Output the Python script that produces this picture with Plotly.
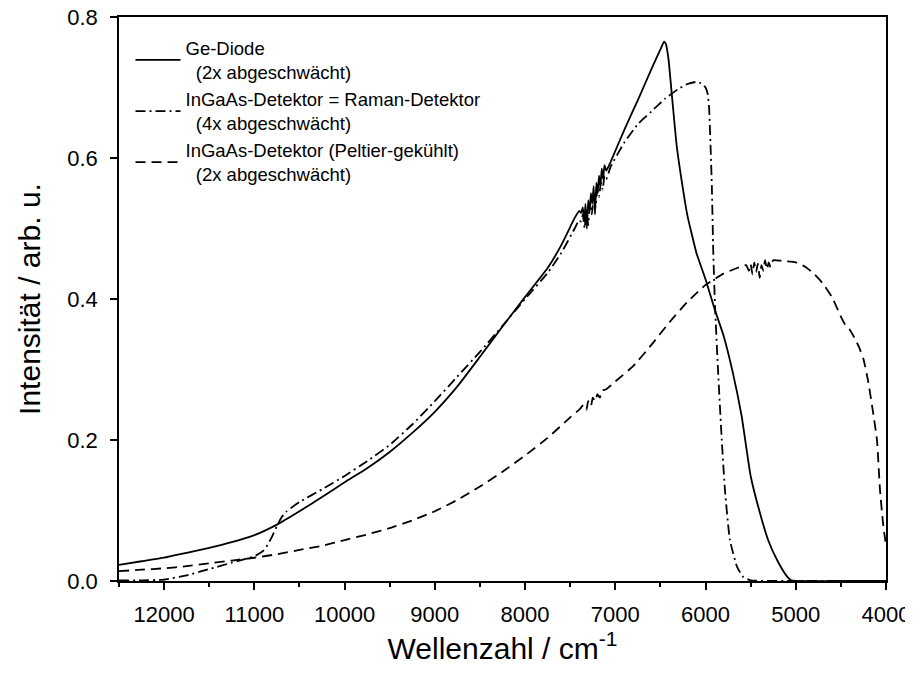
import plotly.graph_objects as go

# ---------------- data ----------------
ge_x = [12500, 12250, 12000, 11750, 11500, 11250, 11000, 10750, 10500, 10250,
        10000, 9750, 9500, 9250, 9000, 8750, 8500, 8250, 8000, 7750, 7600, 7450, 7400,
        7380, 7360, 7345, 7330, 7315, 7300, 7285, 7270, 7255, 7240, 7225, 7210,
        7195, 7180, 7165, 7150, 7135, 7120, 7100,
        7050, 6900, 6750, 6600, 6500, 6460, 6440, 6410, 6370, 6320, 6250, 6200,
        6100, 6000, 5900, 5800, 5700, 5600, 5500, 5400, 5300, 5200, 5100, 5050,
        5000, 4500, 4000]
ge_y = [0.023, 0.028, 0.033, 0.040, 0.047, 0.055, 0.065, 0.080, 0.099, 0.119,
        0.140, 0.160, 0.183, 0.210, 0.240, 0.276, 0.318, 0.361, 0.403, 0.444, 0.476, 0.515, 0.525,
        0.522, 0.530, 0.510, 0.535, 0.500, 0.540, 0.525, 0.550, 0.535, 0.560, 0.520, 0.565,
        0.550, 0.575, 0.560, 0.585, 0.570, 0.590, 0.582,
        0.595, 0.640, 0.682, 0.726, 0.754, 0.765, 0.762, 0.740, 0.685, 0.618, 0.556, 0.518,
        0.465, 0.428, 0.386, 0.348, 0.297, 0.234, 0.149, 0.098, 0.056, 0.028, 0.007, 0.001,
        0.0, 0.0, 0.0]

raman_x = [12500, 12250, 12000, 11750, 11500, 11250, 11000, 10900, 10850, 10800,
           10750, 10700, 10650, 10500, 10250, 10000, 9750, 9500, 9250, 9000, 8750,
           8500, 8250, 8000, 7750, 7600, 7450, 7400,
           7380, 7360, 7340, 7320, 7300, 7280, 7260, 7240, 7220, 7200, 7180, 7160,
           7140, 7120, 7100,
           7050, 6900, 6750, 6600, 6450, 6300, 6200, 6100, 6050, 6000, 5975, 5960,
           5945, 5930, 5915, 5895, 5860, 5820, 5785, 5730, 5650, 5585, 5500, 5000,
           4500, 4000]
raman_y = [0.001, 0.001, 0.002, 0.008, 0.017, 0.026, 0.035, 0.043, 0.052, 0.064,
           0.078, 0.090, 0.098, 0.112, 0.130, 0.149, 0.170, 0.193, 0.222, 0.255, 0.290,
           0.325, 0.362, 0.400, 0.437, 0.465, 0.500, 0.512,
           0.510, 0.520, 0.500, 0.525, 0.505, 0.535, 0.520, 0.545, 0.530, 0.555, 0.545, 0.565,
           0.555, 0.575, 0.570,
           0.588, 0.622, 0.648, 0.666, 0.684, 0.698, 0.705, 0.708, 0.706, 0.700, 0.690, 0.670,
           0.620, 0.560, 0.470, 0.390, 0.295, 0.200, 0.129, 0.058, 0.020, 0.006, 0.001, 0.0,
           0.0, 0.0]

peltier_x = [12500, 12250, 12000, 11750, 11500, 11250, 11000, 10750, 10500, 10250,
             10000, 9750, 9500, 9250, 9000, 8750, 8500, 8250, 8000, 7750, 7500, 7400,
             7350, 7320, 7300, 7270, 7250, 7220, 7200, 7170, 7150, 7100,
             7000, 6800, 6600, 6400, 6200, 6000, 5800, 5650,
             5550, 5520, 5500, 5480, 5460, 5440, 5420, 5400, 5380, 5360, 5340, 5320,
             5300, 5280, 5250,
             5150, 5000, 4900, 4800, 4700, 4600, 4500, 4450, 4400, 4350, 4300, 4250,
             4200, 4150, 4100, 4067, 4033, 4000]
peltier_y = [0.014, 0.016, 0.018, 0.021, 0.025, 0.029, 0.033, 0.038, 0.044, 0.050,
             0.058, 0.066, 0.075, 0.086, 0.099, 0.115, 0.134, 0.155, 0.178, 0.203, 0.232, 0.243,
             0.250, 0.243, 0.255, 0.248, 0.260, 0.255, 0.265, 0.260, 0.270, 0.272,
             0.283, 0.305, 0.335, 0.367, 0.396, 0.420, 0.436, 0.444,
             0.448, 0.440, 0.450, 0.435, 0.452, 0.438, 0.450, 0.430, 0.448, 0.440, 0.455, 0.442,
             0.452, 0.445, 0.455,
             0.454, 0.452, 0.446, 0.436, 0.422, 0.403, 0.375, 0.363, 0.356, 0.345, 0.332, 0.315,
             0.285, 0.245, 0.200, 0.130, 0.082, 0.050]

names = ["Ge-Diode<br>\u00a0\u00a0(2x abgeschwächt)",
         "InGaAs-Detektor = Raman-Detektor<br>\u00a0\u00a0(4x abgeschwächt)",
         "InGaAs-Detektor (Peltier-gekühlt)<br>\u00a0\u00a0(2x abgeschwächt)"]

x_ticks = [12000, 11000, 10000, 9000, 8000, 7000, 6000, 5000, 4000]
y_ticks = [0.0, 0.2, 0.4, 0.6, 0.8]

FONT = "Liberation Sans, Arial, sans-serif"

fig = go.Figure()
fig.add_trace(go.Scatter(x=ge_x, y=ge_y, mode="lines", name=names[0],
                         line=dict(color="black", width=1.8, dash="solid",
                                   shape="spline", smoothing=0.4)))
fig.add_trace(go.Scatter(x=raman_x, y=raman_y, mode="lines", name=names[1],
                         line=dict(color="black", width=1.8, dash="10px,4px,2px,4px",
                                   shape="spline", smoothing=0.4)))
fig.add_trace(go.Scatter(x=peltier_x, y=peltier_y, mode="lines", name=names[2],
                         line=dict(color="black", width=1.8, dash="10px,6px",
                                   shape="spline", smoothing=0.4)))

fig.update_layout(
    width=913, height=679,
    margin=dict(l=111, r=35, t=9, b=106),
    paper_bgcolor="white", plot_bgcolor="white",
    font=dict(family=FONT, color="black"),
    showlegend=True,
    legend=dict(x=0.015, y=0.978, xanchor="left", yanchor="top",
                bgcolor="rgba(0,0,0,0)", borderwidth=0,
                font=dict(family=FONT, size=18.5, color="black"),
                itemwidth=45, tracegroupgap=0),
    xaxis=dict(range=[12500, 4000], tickvals=x_ticks, tickformat="d",
               ticks="outside", ticklen=7, tickwidth=1.5, tickcolor="black",
               ticklabelstandoff=6, ticklabeloverflow="allow",
               minor=dict(dtick=500, tick0=4000, ticks="outside", ticklen=4,
                          tickwidth=1.5, tickcolor="black", showgrid=False),
               showline=True, linecolor="black", linewidth=1.5, mirror=True,
               showgrid=False, zeroline=False, automargin=False,
               tickfont=dict(family=FONT, size=22, color="black"),
               title=dict(text="Wellenzahl / cm<sup>-1</sup>", standoff=11,
                          font=dict(family=FONT, size=30, color="black"))),
    yaxis=dict(range=[0, 0.8], tickvals=y_ticks, tickformat=".1f",
               ticks="outside", ticklen=7, tickwidth=1.5, tickcolor="black",
               ticklabelstandoff=8, ticklabeloverflow="allow",
               showline=True, linecolor="black", linewidth=1.5, mirror=True,
               showgrid=False, zeroline=False, automargin=False,
               tickfont=dict(family=FONT, size=22, color="black"),
               title=dict(text="Intensität / arb. u.", standoff=18,
                          font=dict(family=FONT, size=30, color="black"))),
)

fig.write_html("out.html")
